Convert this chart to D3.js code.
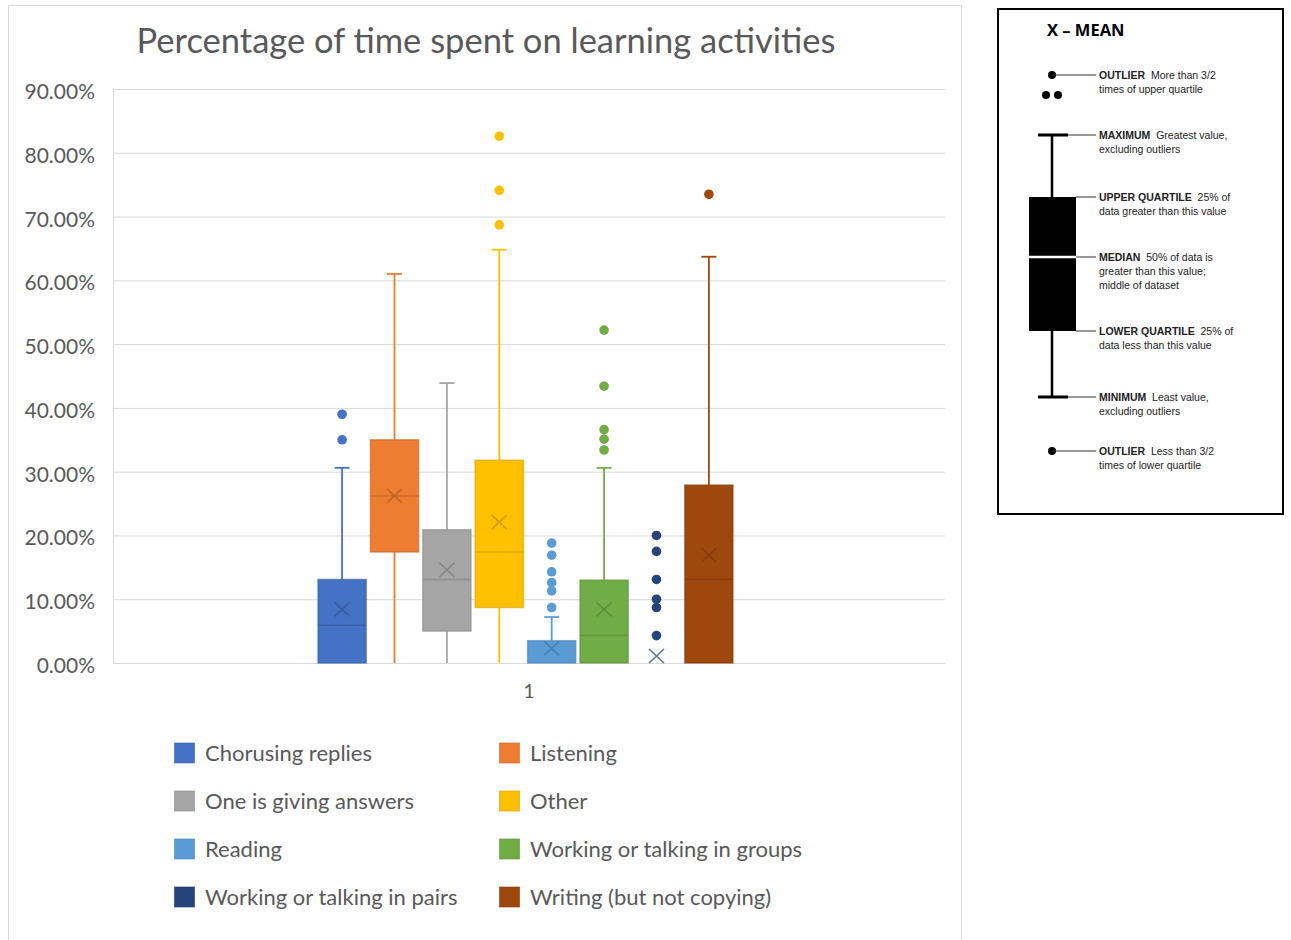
<!DOCTYPE html>
<html>
<head>
<meta charset="utf-8">
<script src="https://cdn.jsdelivr.net/npm/d3@7"></script>
<style>
  body { margin: 0; background: #fff; }
  svg { display: block; }
</style>
</head>
<body>
<svg id="chart" width="1291" height="940"></svg>
<script>
// values in percent
const series = ["Chorusing replies", "Listening", "One is giving answers", "Other",
    "Reading", "Working or talking in groups", "Working or talking in pairs", "Writing (but not copying)"];
const colors = ["#4472C4", "#ED7D31", "#A5A5A5", "#FFC000", "#5B9BD5", "#70AD47", "#264478", "#9E480E"];
const q1 = [0, 17.4, 5.0, 8.7, 0, 0, 0, 0];
const medians = [5.9, 26.2, 13.1, 17.4, 0, 4.3, 0, 13.1];
const q3 = [13.1, 35.0, 20.9, 31.8, 3.5, 13.0, 0, 27.9];
const whiskerLow = [0, 0, 0, 0, 0, 0, 0, 0];
const whiskerHigh = [30.6, 61.0, 43.9, 64.8, 7.2, 30.6, 0, 63.7];
const means = [8.4, 26.2, 14.6, 22.1, 2.3, 8.4, 1.1, 16.9];
const outliers = [
    [39.0, 35.0],
    [],
    [],
    [82.6, 74.1, 68.7],
    [18.8, 16.9, 14.3, 12.6, 11.3, 8.7],
    [52.2, 43.4, 36.6, 35.1, 33.4],
    [20.0, 17.5, 13.1, 10.0, 8.7, 4.3],
    [73.5]
];
const categories = ["1"];
const yTicks = [0, 0.1, 0.2, 0.3, 0.4, 0.5, 0.6, 0.7, 0.8, 0.9];

const keyTitle = "X \u2013 MEAN";
const keyRows = [
    { label: "OUTLIER", lines: ["More than 3/2", "times of upper quartile"] },
    { label: "MAXIMUM", lines: ["Greatest value,", "excluding outliers"] },
    { label: "UPPER QUARTILE", lines: ["25% of", "data greater than this value"] },
    { label: "MEDIAN", lines: ["50% of data is", "greater than this value;", "middle of dataset"] },
    { label: "LOWER QUARTILE", lines: ["25% of", "data less than this value"] },
    { label: "MINIMUM", lines: ["Least value,", "excluding outliers"] },
    { label: "OUTLIER", lines: ["Less than 3/2", "times of lower quartile"] }
];

const font = "Lato, 'Open Sans', sans-serif";
const grey = "#595959";
const svg = d3.select("#chart");

// chart frame
svg.append("rect")
    .attr("x", 8.5).attr("y", 5.5)
    .attr("width", 953).attr("height", 950)
    .attr("fill", "#fff")
    .attr("stroke", "#d9d9d9");

const plot = { left: 113, right: 945, top: 89, bottom: 663 };

const y = d3.scaleLinear().domain([0, 0.9]).range([plot.bottom, plot.top]);
const xCat = d3.scaleBand().domain(categories).range([plot.left, plot.right])
    .paddingOuter(0.4924).align(0.4915);
const xSer = d3.scaleBand().domain(series)
    .range([xCat("1"), xCat("1") + xCat.bandwidth()])
    .paddingInner(0.08).paddingOuter(0.04);

// title
svg.append("text")
    .attr("x", 486).attr("y", 53)
    .attr("text-anchor", "middle")
    .attr("font-family", font)
    .attr("font-size", 34.5)
    .attr("fill", grey)
    .text("Percentage of time spent on learning activities");

// gridlines + y axis
const yAxis = svg.append("g")
    .attr("transform", `translate(${plot.left},0)`)
    .call(d3.axisLeft(y).tickValues(yTicks).tickFormat(d3.format(".2%"))
        .tickSize(-(plot.right - plot.left)).tickPadding(18));
yAxis.select(".domain").attr("stroke", "#d9d9d9");
yAxis.selectAll(".tick line").attr("stroke", "#d9d9d9");
yAxis.selectAll(".tick text")
    .attr("font-family", font).attr("font-size", 21).attr("fill", grey)
    .attr("dy", "0.45em");

// x axis (label centred on the plot)
const xAxis = svg.append("g")
    .attr("transform", `translate(0,${plot.bottom})`)
    .call(d3.axisBottom(xCat.copy().align(0.5)).tickSize(0).tickPadding(22));
xAxis.select(".domain").attr("stroke", "#d9d9d9");
xAxis.selectAll(".tick text")
    .attr("font-family", font).attr("font-size", 19).attr("fill", grey);

// boxes
const boxes = series.map((s, i) => ({
    name: s, color: colors[i], q1: q1[i] / 100, med: medians[i] / 100, q3: q3[i] / 100,
    lo: whiskerLow[i] / 100, hi: whiskerHigh[i] / 100, mean: means[i] / 100,
    out: outliers[i].map(v => v / 100)
}));

const g = svg.append("g");
boxes.forEach(d => {
    const x0 = xSer(d.name);
    const bw = xSer.bandwidth();
    const cx = x0 + bw / 2;
    const dark = d3.color(d.color).darker(0.5);
    const grp = g.append("g");

    if (d.hi > d.q3) {
        grp.append("line")
            .attr("x1", cx).attr("x2", cx)
            .attr("y1", y(d.q3)).attr("y2", y(d.hi))
            .attr("stroke", d.color).attr("stroke-width", 1.8);
        grp.append("line")
            .attr("x1", cx - 7.5).attr("x2", cx + 7.5)
            .attr("y1", y(d.hi)).attr("y2", y(d.hi))
            .attr("stroke", d.color).attr("stroke-width", 1.8);
    }
    if (d.q1 > d.lo) {
        grp.append("line")
            .attr("x1", cx).attr("x2", cx)
            .attr("y1", y(d.q1)).attr("y2", y(d.lo))
            .attr("stroke", d.color).attr("stroke-width", 1.8);
    }
    if (d.q3 > d.q1) {
        grp.append("rect")
            .attr("x", x0).attr("y", y(d.q3))
            .attr("width", bw).attr("height", y(d.q1) - y(d.q3))
            .attr("fill", d.color)
            .attr("stroke", dark).attr("stroke-opacity", 0.6).attr("stroke-width", 1.5);
        if (d.med > d.q1) {
            grp.append("line")
                .attr("x1", x0).attr("x2", x0 + bw)
                .attr("y1", y(d.med)).attr("y2", y(d.med))
                .attr("stroke", dark).attr("stroke-opacity", 0.8).attr("stroke-width", 1.5);
        }
    }
    // mean X
    const mx = 7.5, my = 7;
    grp.append("path")
        .attr("d", `M${cx - mx},${y(d.mean) - my}L${cx + mx},${y(d.mean) + my}M${cx - mx},${y(d.mean) + my}L${cx + mx},${y(d.mean) - my}`)
        .attr("stroke", d3.color(d.color).darker(0.8))
        .attr("stroke-opacity", 0.7)
        .attr("stroke-width", 1.6)
        .attr("fill", "none");
    // outliers
    grp.selectAll("circle")
        .data(d.out)
        .enter()
        .append("circle")
        .attr("cx", cx).attr("cy", v => y(v))
        .attr("r", 4.8)
        .attr("fill", d.color);
});

// legend
const legend = svg.append("g");
const legendCol = d3.scaleOrdinal().domain([0, 1]).range([174, 499]);
const legendRow = d3.scaleLinear().domain([0, 1]).range([753, 801]);
series.forEach((s, i) => {
    const lx = legendCol(i % 2), ly = legendRow(Math.floor(i / 2));
    legend.append("rect")
        .attr("x", lx + 0.5).attr("y", ly - 10)
        .attr("width", 20).attr("height", 20)
        .attr("fill", colors[i])
        .attr("stroke", d3.color(colors[i]).darker(0.5)).attr("stroke-opacity", 0.6);
    legend.append("text")
        .attr("x", lx + 31).attr("y", ly + 7.5)
        .attr("font-family", font).attr("font-size", 22)
        .attr("fill", grey)
        .text(s);
});

// explanation key
const key = svg.append("g");
key.append("rect")
    .attr("x", 998).attr("y", 9)
    .attr("width", 285).attr("height", 505)
    .attr("fill", "#fff").attr("stroke", "#000").attr("stroke-width", 2);
key.append("text")
    .attr("x", 1047).attr("y", 36)
    .attr("font-family", "'Open Sans', sans-serif").attr("font-weight", 700)
    .attr("font-size", 16.5).attr("fill", "#000")
    .text(keyTitle);

const kx = 1052;          // key whisker centre
const kText = 1099;
const rowY = [75, 135, 197, 257, 331, 397, 451];
const lineEnd = [1096, 1096, 1096, 1096, 1096, 1096, 1096];
const lineStart = [kx, 1068, 1076, 1076, 1076, 1068, kx];

// box diagram
key.append("line").attr("x1", kx).attr("x2", kx).attr("y1", rowY[1]).attr("y2", rowY[5])
    .attr("stroke", "#000").attr("stroke-width", 2.5);
key.append("rect").attr("x", 1029).attr("y", rowY[2])
    .attr("width", 47).attr("height", rowY[4] - rowY[2]).attr("fill", "#000");
key.append("line").attr("x1", 1029).attr("x2", 1076).attr("y1", rowY[3]).attr("y2", rowY[3])
    .attr("stroke", "#fff").attr("stroke-width", 2.5);
[rowY[1], rowY[5]].forEach(cy => {
    key.append("line").attr("x1", 1038).attr("x2", 1068).attr("y1", cy).attr("y2", cy)
        .attr("stroke", "#000").attr("stroke-width", 3);
});
[[kx, rowY[0]], [1046, 95], [1058, 95], [kx, rowY[6]]].forEach(p => {
    key.append("circle").attr("cx", p[0]).attr("cy", p[1]).attr("r", 4).attr("fill", "#000");
});

keyRows.forEach((r, i) => {
    key.append("line")
        .attr("x1", lineStart[i]).attr("x2", lineEnd[i])
        .attr("y1", rowY[i]).attr("y2", rowY[i])
        .attr("stroke", "#333").attr("stroke-width", 1);
    const t = key.append("text")
        .attr("font-family", "'Liberation Sans', Arial, sans-serif")
        .attr("font-size", 10.5).attr("fill", "#222");
    const first = t.append("tspan").attr("x", kText).attr("y", rowY[i] + 4);
    first.append("tspan").attr("font-weight", 700).text(r.label);
    first.append("tspan").text("\u00a0\u00a0" + r.lines[0]);
    r.lines.slice(1).forEach((ln, j) => {
        t.append("tspan").attr("x", kText).attr("y", rowY[i] + 4 + 14 * (j + 1)).text(ln);
    });
});
</script>
</body>
</html>
